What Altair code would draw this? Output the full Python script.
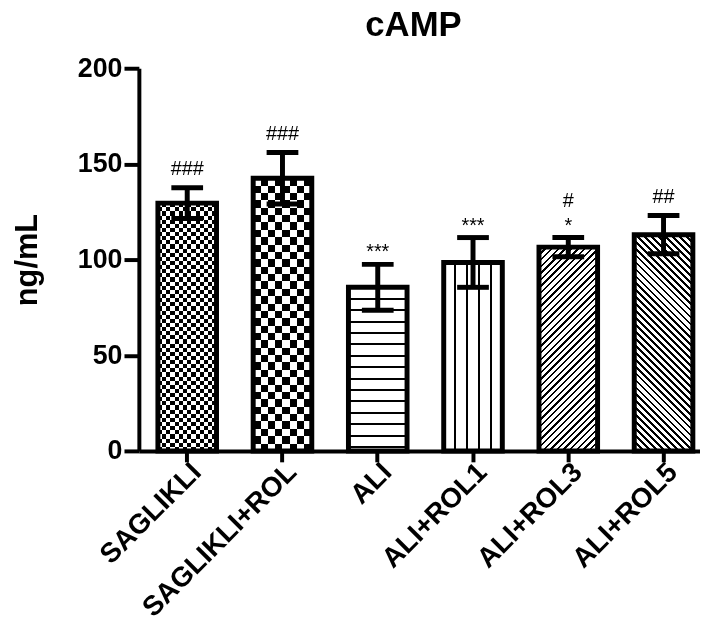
import math
import altair as alt
import pandas as pd

# ---------------- data ----------------
title_text = ["cAMP"]
groups = ["SAGLIKLI", "SAGLIKLI+ROL", "ALI", "ALI+ROL1", "ALI+ROL3", "ALI+ROL5"]
means = [129.5, 142.5, 85.5, 98.5, 106.5, 113.0]
errs = [8.0, 13.5, 12.0, 13.0, 5.0, 10.0]
stars = ["", "", "***", "***", "*", ""]
hashes = ["###", "###", "", "", "#", "##"]

# ---------------- styling ----------------
PLOT_W = 566
PLOT_H = 386
X_RANGE = 578
PAD_INNER = 0.385
PAD_OUTER = 0.2
Y_MAX = 200
FONT = "Liberation Sans"
STACK_GAP_PX = 18  # vertical gap when a '#' sits above a '*'

patterns = [
    {"kind": "checker", "cell": 4.2},
    {"kind": "checker", "cell": 7.5},
    {"kind": "hlines", "period": 11.5, "thick": 2.0},
    {"kind": "vlines", "count": 5, "thick": 2.0},
    {"kind": "diag_up", "period": 6.7, "frac": 0.35},
    {"kind": "diag_down", "period": 7.0, "frac": 0.4},
]

step = X_RANGE / (len(groups) - PAD_INNER + 2 * PAD_OUTER)
bw = step * (1 - PAD_INNER)
px_per_unit = PLOT_H / Y_MAX


def grad(intervals, x1, y1, x2, y2, on="black", off="white"):
    stops = [{"offset": 0, "color": off}]
    for a, b in intervals:
        a = round(max(0.0, min(1.0, a)), 5)
        b = round(max(0.0, min(1.0, b)), 5)
        if b <= a:
            continue
        stops += [
            {"offset": a, "color": off},
            {"offset": a, "color": on},
            {"offset": b, "color": on},
            {"offset": b, "color": off},
        ]
    stops.append({"offset": 1, "color": off})
    return {"gradient": "linear", "x1": x1, "y1": y1, "x2": x2, "y2": y2, "stops": stops}


df = pd.DataFrame({"group": groups, "mean": means, "err": errs, "star": stars, "hash": hashes})

x_axis = alt.Axis(
    title=None, labelAngle=-45, labelAlign="right", labelBaseline="top",
    labelFont=FONT, labelFontSize=28, labelFontWeight="bold", labelColor="black",
    labelLimit=500, labelOverlap=False, labelPadding=-4,
    domainColor="black", domainWidth=4, tickColor="black", tickWidth=4, tickSize=11,
)
y_axis = alt.Axis(
    title="ng/mL", values=[0, 50, 100, 150, 200], grid=False,
    titleFont=FONT, titleFontSize=31, titleFontWeight="bold", titleColor="black",
    titleX=-103, titleY=PLOT_H / 2, titleAngle=-90, titleAlign="center", titleBaseline="alphabetic",
    labelFont=FONT, labelFontSize=27, labelFontWeight="bold", labelColor="black", labelPadding=2,
    domainColor="black", domainWidth=4, tickColor="black", tickWidth=4, tickSize=15,
)

x_scale = alt.Scale(domain=groups, range=[0, X_RANGE], paddingInner=PAD_INNER, paddingOuter=PAD_OUTER)
y_scale = alt.Scale(domain=[0, Y_MAX], nice=False, zero=True)


def X():
    return alt.X("group:N", scale=x_scale, axis=x_axis)


def Y(field):
    return alt.Y(field, scale=y_scale, axis=y_axis)


base = alt.Chart(df)
layers = []

for g, m, pat in zip(groups, means, patterns):
    h = m * px_per_unit
    sub = base.transform_filter(alt.datum.group == g)
    kind = pat["kind"]
    if kind == "checker":
        ny = max(1, round(h / pat["cell"]))
        nx = max(1, round(bw / pat["cell"]))
        ga = grad([(k / ny, (k + 1) / ny) for k in range(1, ny, 2)], 0, 0, 0, 1)
        gb = grad([(k / nx, (k + 1) / nx) for k in range(1, nx, 2)], 0, 0, 1, 0, on="white", off="black")
        layers.append(sub.mark_bar(fill=ga, strokeWidth=0).encode(x=X(), y=Y("mean:Q")))
        layers.append(sub.mark_bar(fill=gb, strokeWidth=0, blend="difference").encode(x=X(), y=Y("mean:Q")))
    elif kind == "hlines":
        t = pat["thick"]
        iv = []
        k = 1
        while k * pat["period"] < h - t:
            c = k * pat["period"]
            iv.append(((c - t / 2) / h, (c + t / 2) / h))
            k += 1
        layers.append(sub.mark_bar(fill=grad(iv, 0, 0, 0, 1), strokeWidth=0).encode(x=X(), y=Y("mean:Q")))
    elif kind == "vlines":
        t = pat["thick"]
        n = pat["count"]
        iv = [((k * bw / n - t / 2) / bw, (k * bw / n + t / 2) / bw) for k in range(1, n)]
        layers.append(sub.mark_bar(fill=grad(iv, 0, 0, 1, 0), strokeWidth=0).encode(x=X(), y=Y("mean:Q")))
    else:
        s = (bw ** 2 + h ** 2) / (bw + h)
        n = (bw + h) / pat["period"]
        iv = [(k / n, (k + pat["frac"]) / n) for k in range(0, math.ceil(n) + 1)]
        if kind == "diag_up":
            gg = grad(iv, 0, 0, round(bw / s, 5), round(h / s, 5))
        else:
            gg = grad(iv, 1, 0, round(1 - bw / s, 5), round(h / s, 5))
        layers.append(sub.mark_bar(fill=gg, strokeWidth=0).encode(x=X(), y=Y("mean:Q")))

# bar outlines
layers.append(base.mark_bar(fillOpacity=0, stroke="black", strokeWidth=5).encode(x=X(), y=Y("mean:Q")))

# error bars
eb = base.transform_calculate(lo="datum.mean - datum.err", hi="datum.mean + datum.err")
layers.append(eb.mark_rule(color="black", strokeWidth=5).encode(x=X(), y=Y("lo:Q"), y2="hi:Q"))
layers.append(eb.mark_tick(color="black", thickness=5, size=32, opacity=1).encode(x=X(), y=Y("hi:Q")))
layers.append(eb.mark_tick(color="black", thickness=5, size=32, opacity=1).encode(x=X(), y=Y("lo:Q")))

# significance marks
tx = base.transform_calculate(
    top="datum.mean + datum.err",
    htop=f"datum.mean + datum.err + (datum.star != '' ? {STACK_GAP_PX / px_per_unit} : 0)",
)
layers.append(
    tx.mark_text(font=FONT, fontSize=20, color="black", baseline="bottom", dy=-2)
    .encode(x=X(), y=Y("top:Q"), text="star:N")
)
layers.append(
    tx.mark_text(font=FONT, fontSize=20, color="black", baseline="bottom", dy=-9)
    .encode(x=X(), y=Y("htop:Q"), text="hash:N")
)

# chart title (placed above the plot area)
layers.append(
    alt.Chart(pd.DataFrame({"t": title_text}))
    .mark_text(font=FONT, fontSize=35, fontWeight="bold", color="black",
               align="center", baseline="alphabetic")
    .encode(text="t:N", x=alt.value(277), y=alt.value(-33))
)

chart = alt.layer(*layers).properties(
    width=PLOT_W,
    height=PLOT_H,
    autosize=alt.AutoSizeParams(type="none"),
    padding={"left": 132, "top": 58, "right": 0, "bottom": 192},
).configure(background="white", view=alt.ViewConfig(stroke=None))

chart.save("out.html", embed_options={"renderer": "svg", "actions": False})
